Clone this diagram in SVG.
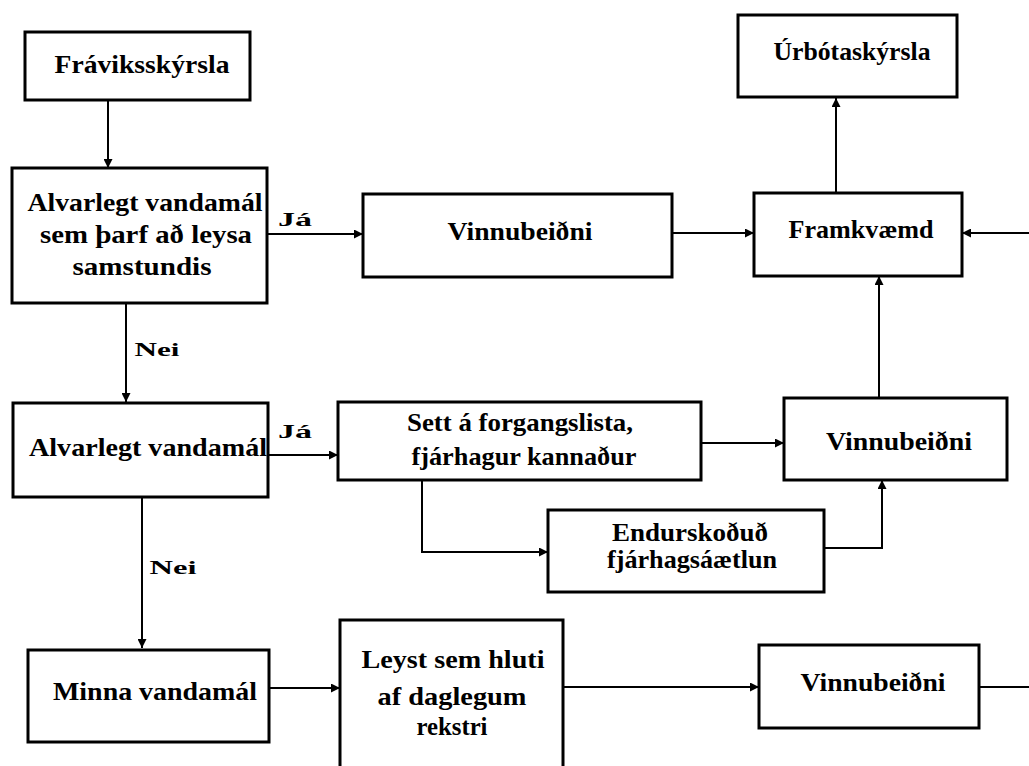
<svg xmlns="http://www.w3.org/2000/svg" width="1029" height="766" viewBox="0 0 1029 766">
<style>
  .box { fill: #fff; stroke: #000; stroke-width: 3; }
  .t { font-family: "Liberation Serif", "Times New Roman", serif; font-size: 26px; font-weight: bold; fill: #000; text-anchor: middle; }
  .lbl { font-family: "Liberation Serif", "Times New Roman", serif; font-size: 18px; font-weight: bold; fill: #000; text-anchor: middle; }
  .c { fill: none; stroke: #000; stroke-width: 2; }
  .a { marker-end: url(#ah); }
</style>
<defs>
  <marker id="ah" viewBox="0 0 10 10" refX="10" refY="5" markerWidth="11" markerHeight="9" orient="auto" markerUnits="userSpaceOnUse">
    <path d="M0,0 L10,5 L0,10 z" fill="#000"/>
  </marker>
</defs>
<rect width="1029" height="766" fill="#fff"/>

<g id="connectors">
  <path class="c a" d="M108,100 V168"/>
  <path class="c a" d="M267,234 H363"/>
  <path class="c a" d="M672,233 H754"/>
  <path class="c a" d="M1029,233 H962"/>
  <path class="c a" d="M836,193 V98"/>
  <path class="c a" d="M879,398 V276"/>
  <path class="c a" d="M126,303 V402"/>
  <path class="c a" d="M268,455 H338"/>
  <path class="c a" d="M701,443 H784"/>
  <path class="c a" d="M422,480 V552 H548"/>
  <path class="c a" d="M824,548 H882 V480"/>
  <path class="c a" d="M142,497 V648"/>
  <path class="c a" d="M269,688 H340"/>
  <path class="c a" d="M563,687 H759"/>
  <path class="c" d="M979,687 H1029"/>
  <text class="lbl" x="295" y="226" textLength="34" lengthAdjust="spacingAndGlyphs">Já</text>
  <text class="lbl" x="295" y="438" textLength="34" lengthAdjust="spacingAndGlyphs">Já</text>
  <text class="lbl" x="157" y="356" textLength="45" lengthAdjust="spacingAndGlyphs">Nei</text>
  <text class="lbl" x="173" y="574" textLength="47" lengthAdjust="spacingAndGlyphs">Nei</text>
</g>

<g id="fraviksskyrsla">
  <rect class="box" x="25" y="32" width="225" height="68"/>
  <text class="t" x="142" y="73" textLength="175" lengthAdjust="spacingAndGlyphs">Fráviksskýrsla</text>
</g>

<g id="alvarlegt1">
  <rect class="box" x="12" y="168" width="255" height="135"/>
  <text class="t" x="145" y="211" textLength="235" lengthAdjust="spacingAndGlyphs">Alvarlegt vandamál</text>
  <text class="t" x="146" y="243" textLength="212" lengthAdjust="spacingAndGlyphs">sem þarf að leysa</text>
  <text class="t" x="142" y="275" textLength="139" lengthAdjust="spacingAndGlyphs">samstundis</text>
</g>

<g id="vinnubeidni1">
  <rect class="box" x="363" y="194" width="309" height="83"/>
  <text class="t" x="520" y="240" textLength="145" lengthAdjust="spacingAndGlyphs">Vinnubeiðni</text>
</g>

<g id="framkvaemd">
  <rect class="box" x="754" y="193" width="208" height="83"/>
  <text class="t" x="861" y="238" textLength="145" lengthAdjust="spacingAndGlyphs">Framkvæmd</text>
</g>

<g id="urbotaskyrsla">
  <rect class="box" x="738" y="15" width="219" height="82"/>
  <text class="t" x="852" y="60" textLength="157" lengthAdjust="spacingAndGlyphs">Úrbótaskýrsla</text>
</g>

<g id="alvarlegt2">
  <rect class="box" x="13" y="403" width="255" height="94"/>
  <text class="t" x="148" y="456" textLength="238" lengthAdjust="spacingAndGlyphs">Alvarlegt vandamál</text>
</g>

<g id="forgangslisti">
  <rect class="box" x="338" y="402" width="363" height="78"/>
  <text class="t" x="520" y="431" textLength="226" lengthAdjust="spacingAndGlyphs">Sett á forgangslista,</text>
  <text class="t" x="524" y="465" textLength="225" lengthAdjust="spacingAndGlyphs">fjárhagur kannaður</text>
</g>

<g id="vinnubeidni2">
  <rect class="box" x="784" y="398" width="223" height="82"/>
  <text class="t" x="899" y="450" textLength="146" lengthAdjust="spacingAndGlyphs">Vinnubeiðni</text>
</g>

<g id="endurskodud">
  <rect class="box" x="548" y="510" width="276" height="82"/>
  <text class="t" x="690" y="541" textLength="156" lengthAdjust="spacingAndGlyphs">Endurskoðuð</text>
  <text class="t" x="692" y="568" textLength="170" lengthAdjust="spacingAndGlyphs">fjárhagsáætlun</text>
</g>

<g id="minna">
  <rect class="box" x="28" y="650" width="241" height="92"/>
  <text class="t" x="155" y="700" textLength="204" lengthAdjust="spacingAndGlyphs">Minna vandamál</text>
</g>

<g id="leyst">
  <rect class="box" x="340" y="620" width="223" height="160"/>
  <text class="t" x="453" y="668" textLength="183" lengthAdjust="spacingAndGlyphs">Leyst sem hluti</text>
  <text class="t" x="452" y="705" textLength="149" lengthAdjust="spacingAndGlyphs">af daglegum</text>
  <text class="t" x="452" y="735" textLength="71" lengthAdjust="spacingAndGlyphs">rekstri</text>
</g>

<g id="vinnubeidni3">
  <rect class="box" x="759" y="645" width="220" height="83"/>
  <text class="t" x="873" y="691" textLength="145" lengthAdjust="spacingAndGlyphs">Vinnubeiðni</text>
</g>
</svg>
